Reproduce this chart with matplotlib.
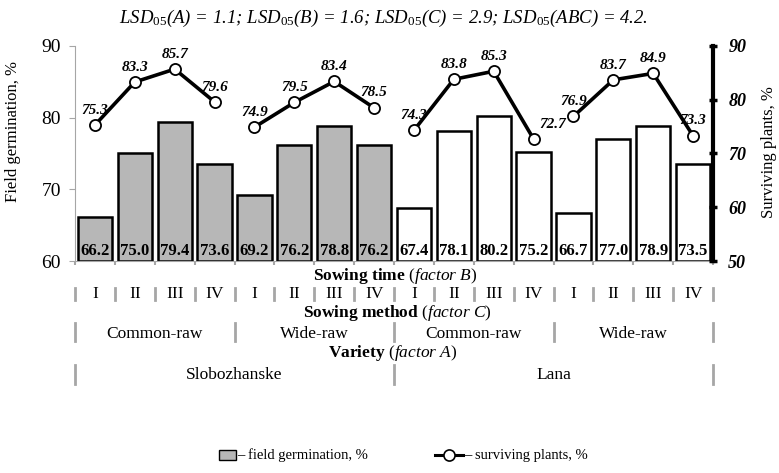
import matplotlib
matplotlib.use("Agg")
import matplotlib.pyplot as plt
from matplotlib.patches import Rectangle
from matplotlib.lines import Line2D
from matplotlib.transforms import blended_transform_factory

plt.rcParams.update({"font.family": "Liberation Serif",
                     "mathtext.fontset": "custom",
                     "mathtext.rm": "Liberation Serif",
                     "mathtext.it": "Liberation Serif:italic",
                     "mathtext.bf": "Liberation Serif:bold",
                     "mathtext.default": "it"})

# data
sowing_time = ["I", "II", "III", "IV"] * 4
sowing_method = ["Common-raw", "Wide-raw", "Common-raw", "Wide-raw"]
variety = ["Slobozhanske", "Lana"]
field_germination = [66.2, 75.0, 79.4, 73.6, 69.2, 76.2, 78.8, 76.2,
                     67.4, 78.1, 80.2, 75.2, 66.7, 77.0, 78.9, 73.5]
surviving_plants = [75.3, 83.3, 85.7, 79.6, 74.9, 79.5, 83.4, 78.5,
                    74.3, 83.8, 85.3, 72.7, 76.9, 83.7, 84.9, 73.3]
title = ("LSD$_{05}$(A) = 1.1; LSD$_{05}$(B) = 1.6; "
         "LSD$_{05}$(C) = 2.9; LSD$_{05}$(ABC) = 4.2.")

GRAY = "#a6a6a6"
BARGRAY = "#b7b7b7"
W, H = 779, 473


def yf(py):
    return 1 - py / H


fig = plt.figure(figsize=(W / 100, H / 100), dpi=100)
ax = fig.add_axes([75 / W, 1 - 261 / H, 638 / W, 215 / H])
x = list(range(len(field_germination)))
colors = [BARGRAY] * 8 + ["white"] * 8
ax.bar(x, [v - 60 for v in field_germination], bottom=60, width=0.86,
       color=colors, edgecolor="black", linewidth=1.8, zorder=2)
for xi, v in zip(x, field_germination):
    ax.text(xi, 60.3, f"{v:.1f}", ha="center", va="bottom", fontsize=12,
            fontweight="bold", zorder=3)
ax.set_xlim(-0.5, 15.5)
ax.set_ylim(60, 90)
ax.set_yticks([60, 70, 80, 90])
ax.tick_params(axis="y", colors=GRAY, labelcolor="black", labelsize=14, length=4, pad=6)
ax.set_xticks([i - 0.5 for i in range(17)])
ax.set_xticklabels([])
ax.tick_params(axis="x", colors=GRAY, length=3, width=1.5)
for s in ("top", "right"):
    ax.spines[s].set_visible(False)
for s in ("left", "bottom"):
    ax.spines[s].set_color(GRAY)

ax2 = ax.twinx()
ax2.set_ylim(50, 90)
ax2.set_yticks([50, 60, 70, 80, 90])
ax2.set_yticklabels([str(t) for t in range(50, 100, 10)], fontweight="bold",
                    fontstyle="italic", fontsize=13)
ax2.tick_params(axis="y", direction="inout", length=6, width=2.5, pad=8)
for s in ("top", "left", "bottom"):
    ax2.spines[s].set_visible(False)
ax2.spines["right"].set_linewidth(3)

line_kw = dict(color="black", lw=2.6, marker="o", ms=8,
               mfc="white", mec="black", mew=1.3)
for g in range(4):
    xs = x[g * 4:(g + 1) * 4]
    ys = surviving_plants[g * 4:(g + 1) * 4]
    ax2.plot(xs, ys, zorder=4, **line_kw)
for xi, v in zip(x, surviving_plants):
    dx = 14 if xi == 11 else 0
    ax2.annotate(f"{v:.1f}", (xi, v), xytext=(dx, 6), textcoords="offset points",
                 ha="center", va="bottom", fontsize=11, fontweight="bold",
                 fontstyle="italic", zorder=5)

fig.text(383 / W, yf(18), title, ha="center", va="center", fontsize=13.5,
         fontstyle="italic")
ax.set_ylabel("Field germination, %", fontsize=12)
ax.yaxis.set_label_coords((21 - 75) / 638, (261 - 131) / 215)
ax2.set_ylabel("Surviving plants, %", fontsize=12)
ax2.yaxis.set_label_coords((761 - 75) / 638, (261 - 152) / 215)

# category rows below the axis
tr = blended_transform_factory(ax.transData, fig.transFigure)


def row(labels, step, ylab, y0, y1):
    for i in range(0, 17, step):
        ax.plot([i - 0.5, i - 0.5], [yf(y0), yf(y1)], color=GRAY, lw=2,
                transform=tr, clip_on=False)
    for k, lab in enumerate(labels):
        ax.text(k * step + (step - 1) / 2, yf(ylab), lab, transform=tr,
                ha="center", va="center", fontsize=12.5)


hdr = dict(ha="center", va="center", fontsize=12.5)
fig.text(395 / W, yf(276), r"$\mathbf{Sowing\ time}$ ($\mathit{factor\ B}$)", **hdr)
row(sowing_time, 1, 294, 288, 300)
fig.text(397 / W, yf(313), r"$\mathbf{Sowing\ method}$ ($\mathit{factor\ C}$)", **hdr)
row(sowing_method, 4, 334, 323, 341)
fig.text(393 / W, yf(353), r"$\mathbf{Variety}$ ($\mathit{factor\ A}$)", **hdr)
row(variety, 8, 375, 365, 384)

# legend
fig.patches.append(Rectangle((219 / W, yf(460)), 17 / W, 10 / H, facecolor=BARGRAY,
                             edgecolor="black", lw=1, transform=fig.transFigure))
fig.text(237 / W, yf(455), "– field germination, %", ha="left", va="center", fontsize=10.5)
fig.lines.append(Line2D([435 / W, 463 / W], [yf(455), yf(455)], transform=fig.transFigure,
                        color="black", lw=2.2))
fig.lines.append(Line2D([449 / W], [yf(455)], transform=fig.transFigure, ls="none",
                        marker="o", ms=8, mfc="white", mec="black", mew=1.2))
fig.text(464 / W, yf(455), "– surviving plants, %", ha="left", va="center", fontsize=10.5)

fig.savefig("out.png", dpi=100)
